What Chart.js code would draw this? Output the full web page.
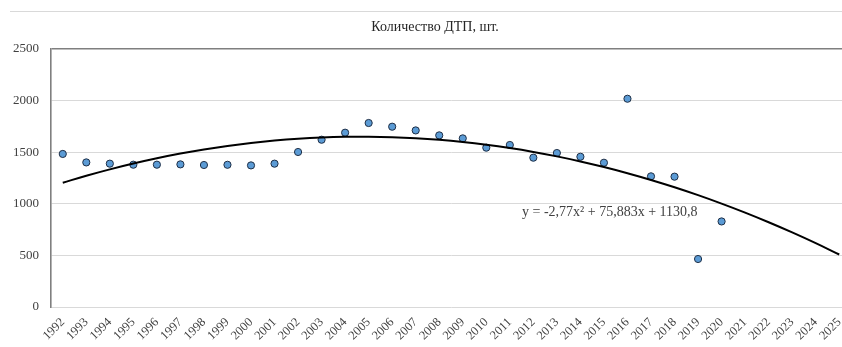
<!DOCTYPE html>
<html lang="ru">
<head>
<meta charset="utf-8">
<script src="https://cdn.jsdelivr.net/npm/chart.js@4/dist/chart.umd.min.js"></script>
<style>
  html, body { margin: 0; padding: 0; background: #fff; overflow: hidden; }
  #wrap { position: relative; width: 870px; height: 347px; }
</style>
</head>
<body>
<div id="wrap"><canvas id="chart"></canvas></div>
<script>
// Годы наблюдений и прогноза
const years = ['1992','1993','1994','1995','1996','1997','1998','1999','2000','2001',
  '2002','2003','2004','2005','2006','2007','2008','2009','2010','2011',
  '2012','2013','2014','2015','2016','2017','2018','2019','2020','2021',
  '2022','2023','2024','2025'];

// Количество ДТП, шт. (1992–2020)
const accidents = [1483, 1401, 1389, 1379, 1379, 1382, 1376, 1378, 1372, 1389,
  1502, 1621, 1689, 1783, 1747, 1711, 1663, 1634, 1544, 1570,
  1447, 1492, 1456, 1398, 2018, 1266, 1263, 465, 829];

// Полиномиальный тренд 2-й степени: y = a·x² + b·x + c, x = 1 для 1992 г.
const trendCoef = [-2.77, 75.883, 1130.8];
const trendLabel = 'y = -2,77x² + 75,883x + 1130,8';

const yTicks = [0, 500, 1000, 1500, 2000, 2500];

const trend = years.map((_, i) => {
  const x = i + 1;
  return trendCoef[0] * x * x + trendCoef[1] * x + trendCoef[2];
});

const serif = "'Liberation Serif', 'Times New Roman', serif";

// Верхняя рамка области диаграммы и подпись уравнения тренда
const decorations = {
  id: 'decorations',
  beforeDraw(chart) {
    const ctx = chart.ctx;
    ctx.save();
    ctx.strokeStyle = '#d9d9d9';
    ctx.lineWidth = 1;
    ctx.beginPath();
    ctx.moveTo(10, 11.5);
    ctx.lineTo(chart.width, 11.5);
    ctx.stroke();
    ctx.restore();
  },
  afterDatasetsDraw(chart) {
    const { ctx, scales } = chart;
    const x = scales.x.getPixelForValue(23.25);
    const y = scales.y.getPixelForValue(915);
    ctx.save();
    ctx.font = '14px ' + serif;
    ctx.fillStyle = '#404040';
    ctx.textAlign = 'center';
    ctx.textBaseline = 'middle';
    ctx.fillText(trendLabel, x, y);
    ctx.restore();
  }
};

new Chart(document.getElementById('chart'), {
  type: 'line',
  data: {
    labels: years,
    datasets: [
      {
        label: 'Полиномиальная (Количество ДТП, шт.)',
        data: trend,
        borderColor: '#000000',
        borderWidth: 2,
        pointRadius: 0,
        tension: 0.4,
        fill: false,
        order: 0
      },
      {
        label: 'Количество ДТП, шт.',
        data: accidents,
        showLine: false,
        pointRadius: 3.6,
        pointBackgroundColor: '#5b9bd5',
        pointBorderColor: '#1f2f46',
        pointBorderWidth: 1,
        order: 1
      }
    ]
  },
  options: {
    responsive: true,
    maintainAspectRatio: false,
    animation: false,
    devicePixelRatio: 1,
    layout: { padding: 0 },
    plugins: {
      legend: { display: false },
      tooltip: { enabled: false },
      title: {
        display: true,
        text: 'Количество ДТП, шт.',
        color: '#262626',
        font: { family: serif, size: 14, weight: 'normal' },
        padding: { top: 19.4, bottom: 12.8 }
      }
    },
    scales: {
      x: {
        offset: true,
        grid: { display: false, drawTicks: false },
        border: { display: false },
        ticks: {
          color: '#404040',
          font: { family: serif, size: 12.5 },
          minRotation: 45,
          maxRotation: 45,
          autoSkip: false,
          padding: 8,
          labelOffset: 0
        },
        afterFit(scale) { scale.height = 40; }
      },
      y: {
        min: 0,
        max: 2500,
        afterBuildTicks(scale) { scale.ticks = yTicks.map(v => ({ value: v })); },
        grid: {
          drawTicks: false,
          color: c => (c.tick && c.tick.value === 2500 ? '#7f7f7f' : '#d9d9d9'),
          lineWidth: c => (c.tick && c.tick.value === 2500 ? 1.6 : 1)
        },
        border: { display: true, color: '#7f7f7f', width: 1.6 },
        ticks: {
          color: '#404040',
          font: { family: serif, size: 13 },
          padding: 12,
          callback: v => String(v)
        },
        afterFit(scale) { scale.width = 51; }
      },
      // пустое поле справа от области построения
      yRight: {
        position: 'right',
        min: 0,
        max: 2500,
        grid: { display: false, drawTicks: false },
        border: { display: false },
        ticks: { display: false },
        afterFit(scale) { scale.width = 19; }
      }
    }
  },
  plugins: [decorations]
});
</script>
</body>
</html>
